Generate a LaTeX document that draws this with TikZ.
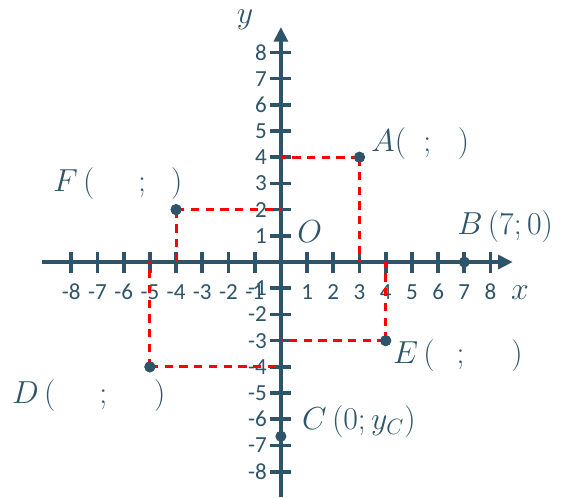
\documentclass[tikz,border=0pt]{standalone}
\usepackage{fontspec}
\newfontfamily\numfont{Carlito}
\usetikzlibrary{arrows.meta,positioning}
\definecolor{slate}{RGB}{45,84,104}

\begin{document}
\begin{tikzpicture}[x=0.5cm, y=0.5cm,
axis/.style={line width=2.6pt, draw=slate, -{Triangle[length=8pt,width=7.5pt]}},
tickmark/.style={line width=2pt, draw=slate},
guide/.style={draw=red, line width=1.6pt, dash pattern=on 4.5pt off 3.5pt},
dot/.style={circle, fill=slate, inner sep=0pt, minimum size=6pt},
num/.style={font=\numfont\fontsize{12.5}{14}\selectfont, text=slate, inner sep=1pt},
lbl/.style={font=\fontsize{17}{20}\selectfont, text=slate, anchor=west, inner sep=0pt}
]
\useasboundingbox (-10.72,-8.97) rectangle (10.88,10.0);

% axes
\coordinate (xstart) at (-9.12,0);
\coordinate (xend) at (8.85,0);
\coordinate (ystart) at (0,-8.97);
\coordinate (yend) at (0,8.97);
\draw[axis] (xstart) -- (xend);
\draw[axis] (ystart) -- (yend);

% ticks and numbers
\foreach \k in {-8,...,-1,1,2,...,8} {
  \draw[tickmark] (\k,-0.4) -- (\k,0.4);
  \draw[tickmark] (-0.4,\k) -- (0.4,\k);
  \node[num] (xn\k) at (\k,-1.15) {\k};
  \node[num, anchor=east] (yn\k) at (-0.45,\k) {\k};
}

% points
\node[dot] (A) at (3,4) {};
\node[dot] (B) at (7,0) {};
\node[dot] (C) at (0,-6.65) {};
\node[dot] (D) at (-5,-4) {};
\node[dot] (E) at (4,-3) {};
\node[dot] (F) at (-4,2) {};

% feet on the axes
\coordinate (Ax) at (3,0);
\coordinate (Ay) at (0,4);
\coordinate (Dx) at (-5,0);
\coordinate (Dy) at (0,-4);
\coordinate (Ex) at (4,0);
\coordinate (Ey) at (0,-3);
\coordinate (Fx) at (-4,0);
\coordinate (Fy) at (0,2);

\draw[guide] (A.center) -- (Ax);
\draw[guide] (A.center) -- (Ay);
\draw[guide] (D.center) -- (Dx);
\draw[guide] (D.center) -- (Dy);
\draw[guide] (E.center) -- (Ex);
\draw[guide] (E.center) -- (Ey);
\draw[guide] (F.center) -- (Fx);
\draw[guide] (F.center) -- (Fy);

\node[dot] at (A) {};
\node[dot] at (D) {};
\node[dot] at (E) {};
\node[dot] at (F) {};

% labels
\node[lbl, anchor=center] (ylabel) at (-1.37,9.24) {$y$};
\node[lbl, anchor=center] (xlabel) at (9.12,-1.18) {$x$};
\node[lbl, anchor=center] (olabel) at (1.1,1.18) {$O$};
\node[lbl] (Alabel) at (3.44,4.54) {$A($\hspace{0.55em}$;$\hspace{0.85em}$)$};
\node[lbl] (Blabel) at (6.72,1.37) {$B\,(7;0)$};
\node[lbl] (Clabel) at (0.8,-6.1) {$C\,(0;y_C)$};
\node[lbl] (Dlabel) at (-10.27,-5.08) {$D\,($\hspace{1.4em}$;$\hspace{1.5em}$)$};
\node[lbl] (Elabel) at (4.27,-3.55) {$E\,($\hspace{0.7em}$;$\hspace{1.5em}$)$};
\node[lbl] (Flabel) at (-8.7,3.0) {$F\,($\hspace{1.4em}$;$\hspace{0.8em}$)$};
\end{tikzpicture}
\end{document}
